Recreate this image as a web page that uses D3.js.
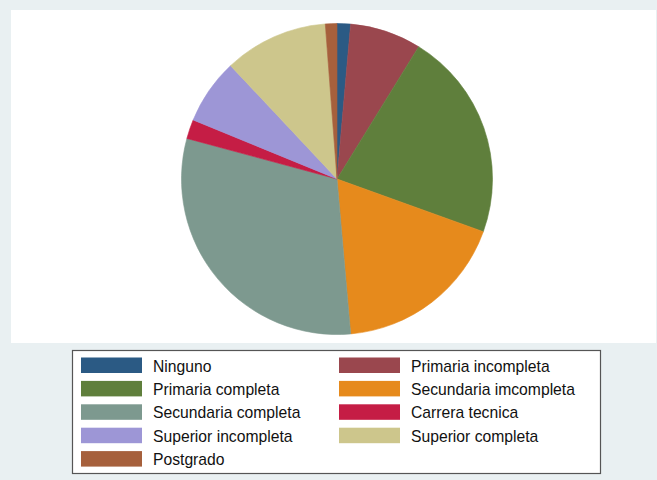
<!DOCTYPE html>
<html>
<head>
<meta charset="utf-8">
<script src="https://cdn.jsdelivr.net/npm/d3@7"></script>
<style>
  html, body { margin: 0; padding: 0; background: #e9f0f2; }
  svg { display: block; }
</style>
</head>
<body>
<svg id="chart" width="657" height="480"></svg>
<script>
// Education level shares (percent of respondents)
const categories = [
  "Ninguno",
  "Primaria incompleta",
  "Primaria completa",
  "Secundaria imcompleta",
  "Secundaria completa",
  "Carrera tecnica",
  "Superior incompleta",
  "Superior completa",
  "Postgrado"
];
const values = [1.4, 7.4, 21.7, 18.1, 30.6, 2.0, 6.8, 10.8, 1.2];
const colors = [
  "#2b5a84", "#9a474e", "#5f7f3c", "#e68a1c", "#7d998f",
  "#c51d45", "#9d96d6", "#cdc68c", "#a6603c"
];

const svg = d3.select("#chart");
const W = 657, H = 480;

// graph region background and white plot region
svg.append("rect").attr("x", 0).attr("y", 0).attr("width", W).attr("height", H).attr("fill", "#e9f0f2");
svg.append("rect").attr("x", 11).attr("y", 10).attr("width", 645).attr("height", 333).attr("fill", "#ffffff");

// pie, starting at 12 o'clock and running clockwise
const data = categories.map((c, i) => ({ name: c, value: values[i], color: colors[i] }));
const pie = d3.pie().value(d => d.value).sort(null).startAngle(0).endAngle(2 * Math.PI);
const arc = d3.arc().innerRadius(0).outerRadius(155.5);

const g = svg.append("g").attr("transform", "translate(337,179)");
g.selectAll("path")
  .data(pie(data))
  .join("path")
  .attr("d", arc)
  .attr("fill", d => d.data.color)
  .attr("stroke", d => d.data.color)
  .attr("stroke-width", 0.6);

// legend box
const lg = svg.append("g");
lg.append("rect")
  .attr("x", 72.5).attr("y", 350.5).attr("width", 528).attr("height", 123)
  .attr("fill", "#ffffff").attr("stroke", "#555555").attr("stroke-width", 1.2);

const colX = [81, 339];
const rowY0 = 357.5, rowStep = 23.4;
const items = lg.selectAll("g.item")
  .data(data)
  .join("g")
  .attr("class", "item")
  .attr("transform", (d, i) => `translate(${colX[i % 2]},${rowY0 + Math.floor(i / 2) * rowStep})`);

items.append("rect")
  .attr("x", 0).attr("y", 0).attr("width", 61).attr("height", 15.5)
  .attr("fill", d => d.color);

items.append("text")
  .attr("x", 72).attr("y", 14)
  .attr("font-family", "'Liberation Sans', Arial, Helvetica, sans-serif")
  .attr("font-size", "15.7px")
  .attr("fill", "#111111")
  .text(d => d.name);
</script>
</body>
</html>
